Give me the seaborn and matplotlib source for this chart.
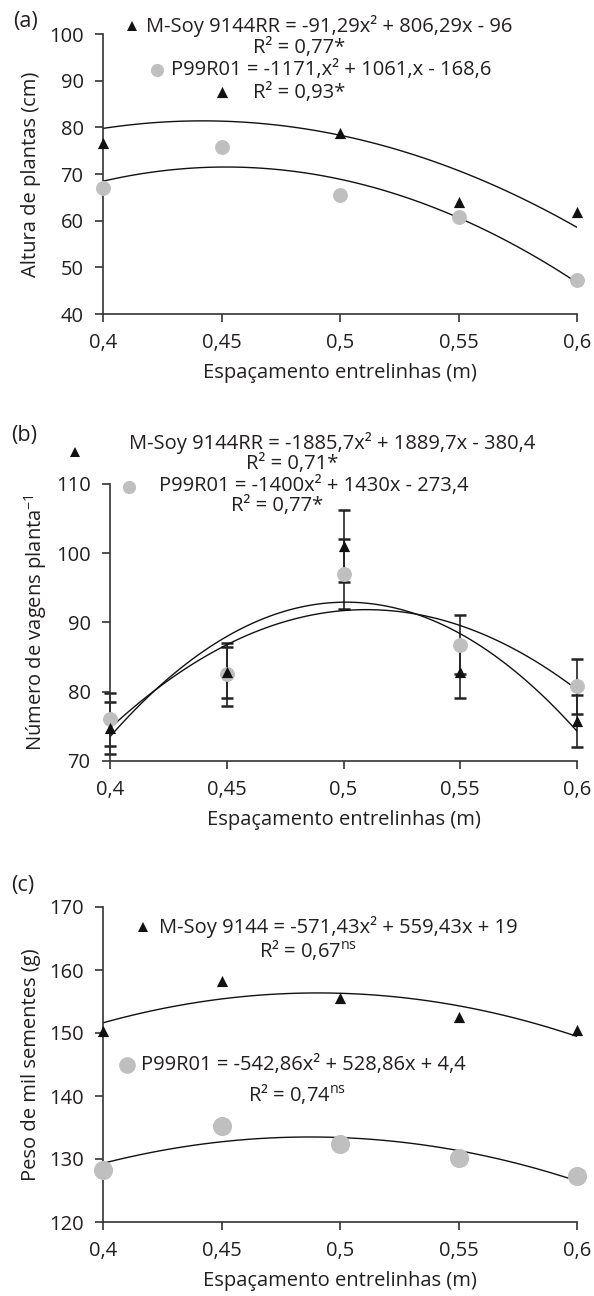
import matplotlib
matplotlib.use("Agg")
import matplotlib.pyplot as plt
import matplotlib.transforms as mtransforms
import pandas as pd
import seaborn as sns

# Espaçamento entrelinhas (m)
espacamento = [0.4, 0.45, 0.5, 0.55, 0.6]
x_labels = ["0,4", "0,45", "0,5", "0,55", "0,6"]

# (a) Altura de plantas (cm)
altura_msoy = [76.6, 87.5, 78.8, 63.9, 61.9]
altura_p99 = [66.9, 75.7, 65.6, 60.8, 47.2]

# (b) Número de vagens por planta (+ erro)
vagens_msoy = [74.75, 82.8, 101.0, 82.8, 75.75]
vagens_msoy_err = [3.75, 3.7, 5.2, 3.7, 3.75]
vagens_p99 = [76.0, 82.5, 97.0, 86.8, 80.8]
vagens_p99_err = [3.8, 4.5, 5.0, 4.3, 3.95]

# (c) Peso de mil sementes (g)
peso_msoy = [150.3, 158.3, 155.5, 152.5, 150.5]
peso_p99 = [128.2, 135.3, 132.4, 130.1, 127.3]

sns.set_style("ticks")
plt.rcParams["font.family"] = ["Open Sans", "DejaVu Sans"]
plt.rcParams["mathtext.fontset"] = "custom"
plt.rcParams["mathtext.rm"] = "Open Sans"
plt.rcParams["mathtext.it"] = "Open Sans:italic"
plt.rcParams["mathtext.bf"] = "Open Sans:bold"

W, H = 594, 1296
FS = 14.5
GREY = "#bfbfbf"
BLACK = "#111111"
TXT = "#231f20"

fig = plt.figure(figsize=(W / 100, H / 100), dpi=100)


def px_axes(left, right, top, bottom):
    return fig.add_axes([left / W, 1 - bottom / H, (right - left) / W, (bottom - top) / H])


def ftext(x, y, s, size=FS, ha="center"):
    fig.text(x / W, 1 - y / H, s, fontsize=size, ha=ha, va="center", color=TXT)


def fmark(x, y, marker, color, size):
    fig.add_artist(plt.Line2D([x / W], [1 - y / H], marker=marker, color=color,
                              markersize=size, linestyle="none", markeredgewidth=0))


def style_axis(ax, ylim, yticks, ylabel, ylabel_right):
    ax.set_xlim(0.4, 0.6)
    ax.set_ylim(*ylim)
    ax.set_xticks(espacamento)
    ax.set_xticklabels(x_labels)
    ax.set_yticks(yticks)
    ax.set_xlabel("Espaçamento entrelinhas (m)", fontsize=FS, color=TXT, labelpad=7)
    ax.set_ylabel(ylabel, fontsize=FS, color=TXT)
    ax.yaxis.set_label_coords(ylabel_right / W, 0.5,
                              transform=mtransforms.blended_transform_factory(fig.transFigure, ax.transAxes))
    for side in ["top", "right"]:
        ax.spines[side].set_visible(False)
    for side in ["left", "bottom"]:
        ax.spines[side].set_color("#333333")
        ax.spines[side].set_linewidth(1.2)
    ax.tick_params(axis="both", direction="out", length=6, width=1.2, color="#333333",
                   labelsize=FS, labelcolor=TXT)
    ax.tick_params(axis="x", pad=8)
    ax.tick_params(axis="y", pad=8)
    ax.grid(False)


def draw_series(ax, y_msoy, y_p99, circ_size):
    df = pd.DataFrame({"x": espacamento, "msoy": y_msoy, "p99": y_p99})
    for col in ["msoy", "p99"]:
        sns.regplot(data=df, x="x", y=col, order=2, ci=None, scatter=False, ax=ax,
                    line_kws={"color": BLACK, "linewidth": 1.0})
    sns.scatterplot(data=df, x="x", y="p99", ax=ax, color=GREY, s=circ_size,
                    linewidth=0, zorder=3, clip_on=False)
    sns.scatterplot(data=df, x="x", y="msoy", ax=ax, color=BLACK, marker="^", s=65,
                    linewidth=0, zorder=4, clip_on=False)


# ---------- (a) ----------
ax_a = px_axes(103, 577, 34, 314)
draw_series(ax_a, altura_msoy, altura_p99, 115)
style_axis(ax_a, (40, 100), range(40, 101, 10), "Altura de plantas (cm)", 41)

ftext(25, 21, "(a)", size=15.5)
fmark(132, 26, "^", BLACK, 7.5)
ftext(146, 26, "M-Soy 9144RR = -91,29x² + 806,29x - 96", ha="left")
ftext(299, 48, "R² = 0,77*")
fmark(157, 70, "o", GREY, 9.5)
ftext(171, 70, "P99R01 = -1171,x² + 1061,x - 168,6", ha="left")
ftext(299, 93, "R² = 0,93*")

# ---------- (b) ----------
ax_b = px_axes(110, 577, 484, 761)
for yv, ye in [(vagens_p99, vagens_p99_err), (vagens_msoy, vagens_msoy_err)]:
    ax_b.errorbar(espacamento, yv, yerr=ye, fmt="none", ecolor="#222222",
                  elinewidth=1.2, capsize=4.5, capthick=1.8, zorder=2, clip_on=False)
draw_series(ax_b, vagens_msoy, vagens_p99, 115)
style_axis(ax_b, (70, 110), range(70, 111, 10), "Número de vagens planta$^{-1}$", 49)

ftext(24, 436, "(b)", size=15.5)
fmark(75, 452, "^", BLACK, 7.5)
ftext(129, 443, "M-Soy 9144RR = -1885,7x² + 1889,7x - 380,4", ha="left")
ftext(292, 464, "R² = 0,71*")
fmark(129, 487, "o", GREY, 9.5)
ftext(159, 486, "P99R01 = -1400x² + 1430x - 273,4", ha="left")
ftext(277, 506, "R² = 0,77*")

# ---------- (c) ----------
ax_c = px_axes(103, 577, 907, 1222)
draw_series(ax_c, peso_msoy, peso_p99, 190)
style_axis(ax_c, (120, 170), range(120, 171, 10), "Peso de mil sementes (g)", 41)

ftext(23, 885, "(c)", size=15.5)
fmark(143, 927, "^", BLACK, 7.5)
ftext(159, 927, "M-Soy 9144 = -571,43x² + 559,43x + 19", ha="left")
ftext(259, 950, "R² = 0,67$^{\\mathrm{ns}}$", ha="left")
fmark(127, 1065, "o", GREY, 12)
ftext(141, 1065, "P99R01 = -542,86x² + 528,86x + 4,4", ha="left")
ftext(248, 1094, "R² = 0,74$^{\\mathrm{ns}}$", ha="left")

fig.savefig("out.png", dpi=100)
